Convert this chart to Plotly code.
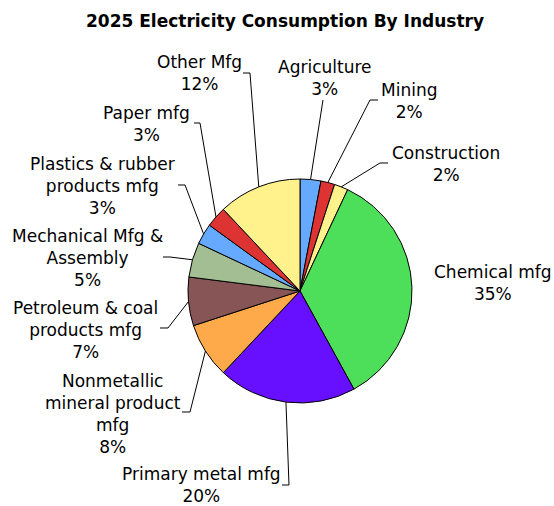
import math
import plotly.graph_objects as go

# ---- data ----
industries = ["Agriculture", "Mining", "Construction", "Chemical mfg", "Primary metal mfg",
              "Nonmetallic mineral product mfg", "Petroleum & coal products mfg",
              "Mechanical Mfg & Assembly", "Plastics & rubber products mfg", "Paper mfg", "Other Mfg"]
shares = [3, 2, 2, 35, 20, 8, 7, 5, 3, 3, 12]
label_text = ["Agriculture", "Mining", "Construction", "Chemical mfg", "Primary metal mfg",
              "Nonmetallic<br>mineral product<br>mfg", "Petroleum & coal<br>products mfg",
              "Mechanical Mfg &<br>Assembly", "Plastics & rubber<br>products mfg", "Paper mfg", "Other Mfg"]
colors = ["#66AAFF", "#DD3333", "#FFF28C", "#4DDF5A", "#6610FF", "#FFAA4A",
          "#875556", "#A2BE92", "#66AAFF", "#DD3333", "#FFF28C"]
title = "2025 Electricity Consumption By Industry"

# ---- layout geometry (pixels) ----
W, H = 554, 506
CX, CY, R = 300, 291, 112
FONT = "DejaVu Sans"

def px(x):
    return x / W

def py(y):
    return 1 - y / H

# label centres (px) and leader elbows / ends (px)
label_pos = {
    "Agriculture": (325, 77.5),
    "Mining": (409, 101),
    "Construction": (446, 163.5),
    "Chemical mfg": (493, 282.5),
    "Primary metal mfg": (201, 485),
    "Nonmetallic mineral product mfg": (113, 413.5),
    "Petroleum & coal products mfg": (85, 330),
    "Mechanical Mfg & Assembly": (87.5, 258),
    "Plastics & rubber products mfg": (102, 186),
    "Paper mfg": (146, 124),
    "Other Mfg": (199, 73),
}
leaders = {
    "Agriculture": [(323, 100)],
    "Mining": [(370, 100), (378, 100)],
    "Construction": [(380, 163), (388, 163)],
    "Primary metal mfg": [(289, 485), (282, 485)],
    "Nonmetallic mineral product mfg": [(190, 412), (182, 412)],
    "Petroleum & coal products mfg": [(168, 328), (160, 328)],
    "Mechanical Mfg & Assembly": [(170, 257), (163, 257)],
    "Plastics & rubber products mfg": [(185, 185), (178, 185)],
    "Paper mfg": [(200, 123), (194, 123)],
    "Other Mfg": [(250, 73), (243, 73)],
}

fig = go.Figure(go.Pie(
    labels=industries, values=shares, sort=False, direction="clockwise", rotation=0,
    marker=dict(colors=colors, line=dict(color="black", width=1)),
    textinfo="none", hoverinfo="label+percent", showlegend=False,
    domain=dict(x=[px(CX - R), px(CX + R)], y=[py(CY + R), py(CY - R)]),
))

total = sum(shares)
annotations = []
shapes = []
cum = 0
for name, val, txt in zip(industries, shares, label_text):
    mid = (cum + val / 2) / total * 2 * math.pi
    cum += val
    ex, ey = CX + R * math.sin(mid), CY - R * math.cos(mid)
    lx, ly = label_pos[name]
    pct = round(val / total * 100)
    annotations.append(dict(
        x=px(lx), y=py(ly), xref="paper", yref="paper", showarrow=False,
        text=f"{txt}<br>{pct}%", align="center", xanchor="center", yanchor="middle",
        font=dict(family=FONT, size=17, color="black"),
    ))
    if name in leaders:
        pts = [(ex, ey)] + leaders[name]
        path = "M " + " L ".join(f"{px(a):.5f},{py(b):.5f}" for a, b in pts)
        shapes.append(dict(type="path", path=path, xref="paper", yref="paper",
                           line=dict(color="black", width=1)))

annotations.append(dict(
    x=px(285), y=py(21), xref="paper", yref="paper", showarrow=False,
    text=f"<b>{title}</b>", xanchor="center", yanchor="middle",
    font=dict(family=FONT, size=17, color="black"),
))

fig.update_layout(
    width=W, height=H, margin=dict(l=0, r=0, t=0, b=0),
    paper_bgcolor="white", plot_bgcolor="white",
    annotations=annotations, shapes=shapes,
)

fig.write_html("out.html", config={"displayModeBar": False},
               post_script="document.body.style.margin='0px';")
